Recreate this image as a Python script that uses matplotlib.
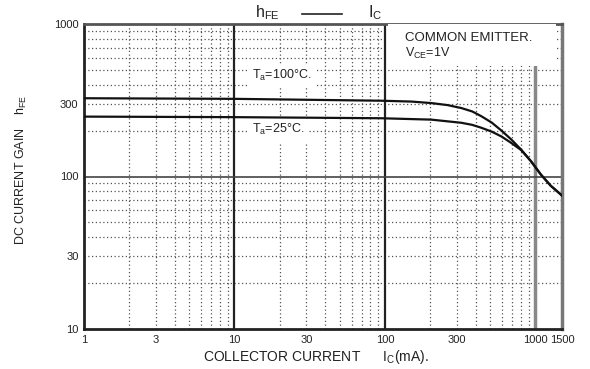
import numpy as np
import matplotlib
matplotlib.use("Agg")
import matplotlib.pyplot as plt
from matplotlib.patches import Rectangle
from matplotlib.lines import Line2D

plt.rcParams['font.family'] = ['Liberation Sans', 'DejaVu Sans']
plt.rcParams['mathtext.default'] = 'regular'

# ---- data ----
ic_100 = [1, 10, 94, 150, 203, 260, 322, 380, 435, 511, 594, 690, 803, 933, 1086, 1262, 1500]
hfe_100 = [326, 323, 314, 310, 303, 294, 281, 267, 249, 226, 200, 175, 150, 126, 103, 87, 75]

ic_25 = [1, 10, 94, 203, 322, 380, 435, 511, 594, 690, 803, 933, 1086, 1262, 1500]
hfe_25 = [247, 245, 241, 236, 225, 218, 209, 197, 183, 166, 149, 126, 103, 87, 75]

x_ticks = [1, 3, 10, 30, 100, 300, 1000, 1500]
x_tick_labels = ["1", "3", "10", "30", "100", "300", "1000", "1500"]
y_ticks = [10, 30, 100, 300, 1000]
y_tick_labels = ["10", "30", "100", "300", "1000"]

W, H = 590, 369
fig = plt.figure(figsize=(W / 100, H / 100), dpi=100)
ax = fig.add_axes([84 / W, 1 - 329 / H, (562 - 84) / W, (329 - 24) / H])
ax.set_xscale('log')
ax.set_yscale('log')
ax.set_xlim(1, 1500)
ax.set_ylim(10, 1000)

# minor dotted grid
minor_x = [m * 10 ** k for k in range(3) for m in range(2, 10)]
minor_y = [m * 10 ** k for k in range(1, 3) for m in range(2, 10)]
dot = dict(color='#555555', lw=0.9, ls=(0, (1, 2)), zorder=1)
for v in minor_x:
    ax.axvline(v, **dot)
for v in minor_y:
    ax.axhline(v, **dot)

# major solid lines
ax.axvline(10, color='#222222', lw=1.6, zorder=2)
ax.axvline(100, color='#222222', lw=1.6, zorder=2)
ax.axvline(1000, color='#888888', lw=2.5, zorder=2)
ax.axhline(100, color='#444444', lw=1.2, zorder=2)

# white box for annotation
ax.add_patch(Rectangle(((388 - 84) / 478, 1 - (66 - 24) / 305), (556 - 388) / 478,
                       (66 - 24) / 305, transform=ax.transAxes,
                       facecolor='white', edgecolor='none', zorder=3))
ax.text((405 - 84) / 478, 1 - (38 - 24) / 305, "COMMON EMITTER.", transform=ax.transAxes,
        fontsize=9.5, va='center', ha='left', zorder=4, color='#222222')
ax.text((405 - 84) / 478, 1 - (53 - 24) / 305, "V$_{CE}$=1V", transform=ax.transAxes,
        fontsize=9, va='center', ha='left', zorder=4, color='#222222')

# curves
ax.plot(ic_100, hfe_100, color='#111111', lw=1.6, zorder=5)
ax.plot(ic_25, hfe_25, color='#111111', lw=1.6, zorder=5)

# curve labels
lab_box = dict(facecolor='white', edgecolor='none', pad=3)
ax.text(13.0, 460, "T$_a$=100°C.", fontsize=9, va='center', ha='left',
        bbox=lab_box, zorder=4, color='#222222')
ax.text(13.0, 202, "T$_a$=25°C.", fontsize=9, va='center', ha='left',
        bbox=lab_box, zorder=4, color='#222222')

# ticks
ax.set_xticks(x_ticks)
ax.set_xticklabels(x_tick_labels)
ax.set_yticks(y_ticks)
ax.set_yticklabels(y_tick_labels)
ax.xaxis.set_minor_locator(matplotlib.ticker.NullLocator())
ax.yaxis.set_minor_locator(matplotlib.ticker.NullLocator())
ax.tick_params(length=0, labelsize=8, pad=4, colors='#222222')

for s in ['left', 'bottom']:
    ax.spines[s].set_linewidth(2)
    ax.spines[s].set_color('#222222')
ax.spines['top'].set_linewidth(2)
ax.spines['top'].set_color('#555555')
ax.spines['right'].set_linewidth(2.5)
ax.spines['right'].set_color('#777777')

ax.set_xlabel("COLLECTOR CURRENT      I$_C$(mA).", fontsize=10, color='#222222')
ax.xaxis.set_label_coords((316 - 84) / 478, -(348 - 329) / 305)
ax.set_ylabel("DC CURRENT GAIN    h$_{FE}$", fontsize=9, color='#222222')
ax.yaxis.set_label_coords((29 - 84) / 478, 1 - (170 - 24) / 305)

# title-like header
fig.text(255 / W, 1 - 13 / H, "h$_{FE}$", fontsize=11.5, ha='left', va='center', color='#222222')
fig.add_artist(Line2D([302 / W, 342 / W], [1 - 14 / H, 1 - 14 / H], transform=fig.transFigure,
                      color='#222222', lw=1.2))
fig.text(368 / W, 1 - 13 / H, "I$_C$", fontsize=11.5, ha='left', va='center', color='#222222')

fig.savefig("out.png", dpi=100)
